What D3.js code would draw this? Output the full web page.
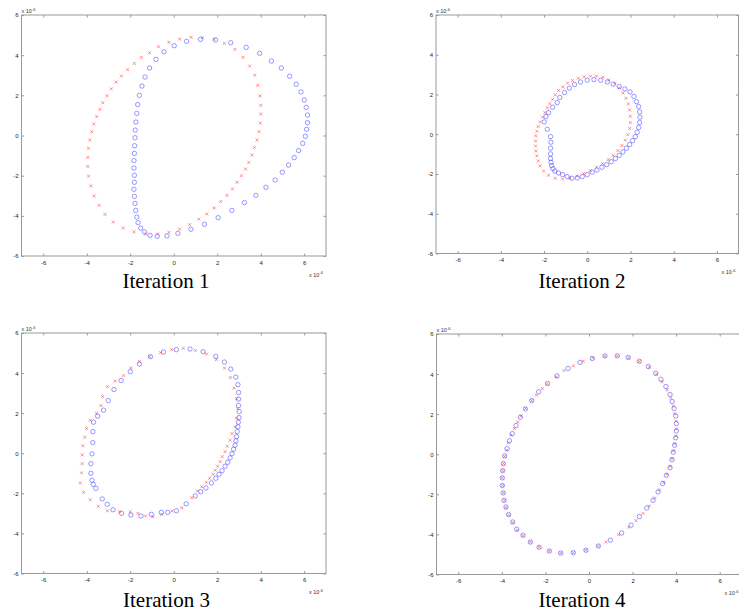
<!DOCTYPE html>
<html>
<head>
<meta charset="utf-8">
<script src="https://cdnjs.cloudflare.com/ajax/libs/d3/7.8.5/d3.min.js"></script>
<style>
  body { margin: 0; background: #fff; }
  .tick text { font-family: "Liberation Sans", Arial, sans-serif; font-size: 6px; fill: #222; }
  .tick line { stroke: #999; }
  .scale { font-family: "Liberation Sans", Arial, sans-serif; font-size: 5.5px; fill: #333; }
  .title { font-family: "Liberation Serif", "Times New Roman", serif; font-size: 21px; fill: #000; }
</style>
</head>
<body>
<svg id="chart" width="739" height="615"></svg>
<script>
// all values are in units of 1e-6 (each plot says "x 10^-6")
var xTicks = [-6, -4, -2, 0, 2, 4, 6];
var yTicks = [-6, -4, -2, 0, 2, 4, 6];
var titles = ["Iteration 1", "Iteration 2", "Iteration 3", "Iteration 4"];

// ITERATION 1
var iter1Red = [[0.80,4.89],[1.32,4.87],[1.86,4.79],[2.33,4.59],[2.81,4.29],[3.19,3.89],[3.49,3.46],[3.72,3.00],[3.86,2.50],[3.97,1.97],[4.00,1.50],[4.00,1.07],[3.98,0.62],[3.92,0.19],[3.83,-0.22],[3.71,-0.59],[3.59,-0.97],[3.45,-1.34],[3.30,-1.67],[3.11,-2.00],[2.91,-2.33],[2.70,-2.66],[2.45,-2.98],[2.16,-3.29],[1.86,-3.61],[1.52,-3.91],[1.15,-4.17],[0.73,-4.44],[0.27,-4.66],[-0.22,-4.82],[-0.74,-4.90],[-1.29,-4.90],[-1.83,-4.80],[-2.32,-4.61],[-2.78,-4.31],[-3.16,-3.93],[-3.43,-3.48],[-3.66,-3.01],[-3.81,-2.51],[-3.92,-2.02],[-3.95,-1.54],[-3.95,-1.09],[-3.92,-0.64],[-3.86,-0.22],[-3.77,0.19],[-3.68,0.57],[-3.54,0.94],[-3.40,1.30],[-3.26,1.63],[-3.07,1.98],[-2.87,2.32],[-2.65,2.66],[-2.41,2.96],[-2.12,3.28],[-1.81,3.59],[-1.49,3.89],[-1.11,4.12],[-0.70,4.42],[-0.22,4.64],[0.27,4.80]];
var iter1Blue = [[1.23,4.79],[1.92,4.76],[2.62,4.62],[3.33,4.39],[3.95,4.09],[4.49,3.71],[4.95,3.36],[5.33,2.95],[5.63,2.55],[5.85,2.17],[6.00,1.77],[6.09,1.40],[6.15,1.02],[6.15,0.64],[6.11,0.31],[6.05,-0.04],[5.93,-0.39],[5.74,-0.75],[5.54,-1.10],[5.28,-1.47],[4.99,-1.83],[4.66,-2.22],[4.24,-2.58],[3.78,-2.98],[3.25,-3.34],[2.67,-3.73],[2.04,-4.09],[1.41,-4.42],[0.79,-4.67],[0.19,-4.87],[-0.31,-5.00],[-0.76,-5.02],[-1.09,-4.97],[-1.35,-4.80],[-1.52,-4.61],[-1.64,-4.34],[-1.70,-4.06],[-1.75,-3.73],[-1.78,-3.38],[-1.81,-3.03],[-1.83,-2.68],[-1.81,-2.33],[-1.81,-1.98],[-1.83,-1.62],[-1.83,-1.25],[-1.81,-0.89],[-1.80,-0.51],[-1.78,-0.11],[-1.77,0.27],[-1.74,0.67],[-1.70,1.10],[-1.66,1.54],[-1.58,2.00],[-1.46,2.46],[-1.32,2.91],[-1.11,3.36],[-0.82,3.79],[-0.45,4.17],[0.02,4.47],[0.59,4.69]];

// ITERATION 2
var iter2Red = [[0.43,2.92],[0.15,2.92],[-0.14,2.89],[-0.42,2.82],[-0.68,2.70],[-0.91,2.57],[-1.13,2.38],[-1.33,2.20],[-1.48,1.98],[-1.60,1.76],[-1.73,1.54],[-1.84,1.33],[-1.96,1.09],[-2.07,0.86],[-2.18,0.62],[-2.27,0.39],[-2.33,0.15],[-2.38,-0.08],[-2.39,-0.34],[-2.39,-0.59],[-2.38,-0.84],[-2.33,-1.09],[-2.27,-1.34],[-2.18,-1.59],[-2.02,-1.85],[-1.79,-2.06],[-1.48,-2.21],[-1.14,-2.25],[-0.80,-2.20],[-0.48,-2.10],[-0.17,-1.98],[0.14,-1.83],[0.43,-1.66],[0.71,-1.48],[0.97,-1.28],[1.20,-1.06],[1.42,-0.82],[1.60,-0.57],[1.76,-0.30],[1.88,-0.02],[1.96,0.29],[1.99,0.59],[1.99,0.91],[1.96,1.22],[1.90,1.53],[1.79,1.81],[1.65,2.08],[1.48,2.33],[1.28,2.55],[1.00,2.73],[0.73,2.87]];
var iter2Blue = [[-1.99,0.62],[-1.85,0.25],[-1.70,-0.12],[-1.68,-0.40],[-1.70,-0.70],[-1.70,-0.99],[-1.70,-1.22],[-1.68,-1.41],[-1.65,-1.58],[-1.59,-1.73],[-1.50,-1.85],[-1.33,-1.95],[-1.14,-2.03],[-0.93,-2.13],[-0.71,-2.21],[-0.46,-2.20],[-0.23,-2.13],[0.00,-2.03],[0.23,-1.91],[0.45,-1.80],[0.68,-1.66],[0.90,-1.53],[1.11,-1.38],[1.30,-1.22],[1.48,-1.06],[1.65,-0.89],[1.81,-0.70],[1.96,-0.52],[2.10,-0.32],[2.22,-0.12],[2.31,0.10],[2.38,0.34],[2.42,0.59],[2.44,0.86],[2.42,1.12],[2.38,1.39],[2.28,1.64],[2.16,1.90],[1.98,2.13],[1.74,2.28],[1.48,2.40],[1.20,2.52],[0.93,2.63],[0.62,2.72],[0.31,2.75],[0.00,2.72],[-0.31,2.63],[-0.59,2.50],[-0.83,2.32],[-1.05,2.10],[-1.27,1.85],[-1.39,1.59],[-1.60,1.36],[-1.79,1.09],[-1.91,0.89]];

// ITERATION 3
var iter3Red = [[-0.61,5.02],[-0.09,5.17],[0.44,5.23],[0.99,5.13],[1.50,4.95],[1.96,4.67],[2.33,4.25],[2.60,3.78],[2.77,3.25],[2.89,2.72],[2.94,2.22],[2.88,1.75],[2.82,1.32],[2.68,0.98],[2.59,0.65],[2.46,0.35],[2.36,0.08],[2.23,-0.17],[2.13,-0.42],[2.02,-0.65],[1.91,-0.85],[1.81,-1.05],[1.65,-1.25],[1.50,-1.45],[1.29,-1.67],[1.09,-1.88],[0.83,-2.22],[0.37,-2.72],[-0.08,-2.88],[-0.55,-3.05],[-0.96,-3.17],[-1.30,-3.13],[-1.65,-3.00],[-2.00,-2.92],[-2.49,-2.92],[-3.05,-2.87],[-3.47,-2.65],[-3.84,-2.32],[-4.15,-1.95],[-4.30,-1.48],[-4.24,-0.98],[-4.21,-0.52],[-4.21,-0.08],[-4.18,0.37],[-4.09,0.80],[-4.01,1.23],[-3.84,1.65],[-3.55,2.00],[-3.35,2.38],[-3.27,2.83],[-3.05,3.32],[-2.69,3.60],[-2.31,3.87],[-1.97,4.25],[-1.58,4.58],[-1.10,4.82]];
var iter3Blue = [[-0.47,5.05],[0.12,5.17],[0.75,5.20],[1.35,5.07],[1.93,4.83],[2.33,4.55],[2.62,4.20],[2.85,3.80],[2.95,3.42],[2.98,3.03],[2.98,2.70],[2.98,2.38],[3.01,2.08],[3.00,1.78],[2.97,1.55],[2.95,1.32],[2.92,1.08],[2.89,0.83],[2.86,0.62],[2.82,0.40],[2.75,0.20],[2.68,-0.02],[2.59,-0.23],[2.48,-0.45],[2.36,-0.65],[2.22,-0.87],[2.08,-1.05],[1.93,-1.25],[1.73,-1.48],[1.48,-1.73],[1.24,-1.92],[0.99,-2.13],[0.57,-2.52],[0.12,-2.87],[-0.28,-2.95],[-0.57,-2.95],[-1.03,-3.05],[-1.51,-3.13],[-1.97,-3.08],[-2.40,-3.00],[-2.79,-2.82],[-3.06,-2.55],[-3.29,-2.28],[-3.58,-1.75],[-3.70,-1.55],[-3.76,-1.35],[-3.81,-1.00],[-3.81,-0.52],[-3.76,-0.03],[-3.72,0.53],[-3.72,1.08],[-3.69,1.55],[-3.50,1.85],[-3.23,2.15],[-3.01,2.63],[-2.75,3.18],[-2.42,3.63],[-2.00,4.07],[-1.58,4.45],[-1.07,4.82]];

// ITERATION 4
var iter4Red = [[0.17,4.81],[0.73,4.89],[1.30,4.91],[1.82,4.81],[2.31,4.63],[2.77,4.34],[3.10,3.99],[3.36,3.61],[3.58,3.21],[3.75,2.81],[3.87,2.41],[3.94,2.03],[3.99,1.65],[4.01,1.26],[3.99,0.90],[3.94,0.53],[3.88,0.17],[3.81,-0.22],[3.72,-0.60],[3.58,-1.00],[3.43,-1.40],[3.23,-1.78],[3.01,-2.18],[2.77,-2.58],[2.48,-2.95],[2.16,-3.31],[1.82,-3.64],[1.36,-4.01],[0.78,-4.38],[0.43,-4.58],[-0.14,-4.79],[-0.72,-4.91],[-1.30,-4.93],[-1.82,-4.83],[-2.29,-4.64],[-2.69,-4.38],[-3.03,-4.06],[-3.29,-3.79],[-3.50,-3.41],[-3.69,-3.03],[-3.81,-2.66],[-3.88,-2.30],[-3.93,-1.93],[-3.96,-1.56],[-3.98,-1.18],[-3.96,-0.82],[-3.93,-0.47],[-3.87,-0.10],[-3.78,0.20],[-3.70,0.57],[-3.58,0.95],[-3.43,1.28],[-3.26,1.61],[-3.12,1.91],[-2.91,2.28],[-2.63,2.68],[-2.42,2.95],[-2.14,3.28],[-1.91,3.51],[-1.50,3.86],[-1.15,4.18],[-0.72,4.41],[-0.26,4.64]];
var iter4Blue = [[0.15,4.78],[0.73,4.91],[1.30,4.91],[1.80,4.83],[2.31,4.64],[2.72,4.38],[3.06,4.04],[3.30,3.74],[3.53,3.38],[3.72,2.98],[3.82,2.63],[3.91,2.28],[3.98,1.91],[4.01,1.53],[4.01,1.16],[3.98,0.82],[3.93,0.45],[3.87,0.10],[3.81,-0.27],[3.72,-0.67],[3.55,-1.05],[3.38,-1.46],[3.17,-1.88],[2.94,-2.30],[2.65,-2.68],[2.31,-3.11],[1.93,-3.54],[1.50,-3.93],[0.98,-4.29],[0.43,-4.58],[-0.14,-4.79],[-0.72,-4.91],[-1.30,-4.93],[-1.82,-4.83],[-2.29,-4.64],[-2.69,-4.38],[-3.03,-4.04],[-3.32,-3.74],[-3.50,-3.38],[-3.69,-3.01],[-3.81,-2.63],[-3.90,-2.30],[-3.94,-1.93],[-3.98,-1.56],[-3.98,-1.18],[-3.96,-0.82],[-3.93,-0.47],[-3.87,-0.08],[-3.76,0.28],[-3.65,0.67],[-3.52,1.03],[-3.35,1.43],[-3.15,1.85],[-2.92,2.26],[-2.63,2.68],[-2.31,3.11],[-1.90,3.53],[-1.47,3.91],[-0.96,4.28],[-0.41,4.58]];

// layout of the four subplots (pixels)
var panels = [
  {title: titles[0], red: iter1Red, blue: iter1Blue, left: 21.5, right: 326, top: 15, bottom: 256, tx: 166, ty: 288},
  {title: titles[1], red: iter2Red, blue: iter2Blue, left: 436, right: 738.5, top: 15, bottom: 253.5, tx: 582, ty: 288},
  {title: titles[2], red: iter3Red, blue: iter3Blue, left: 21.5, right: 326, top: 333, bottom: 573.5, tx: 166.5, ty: 606.5},
  {title: titles[3], red: iter4Red, blue: iter4Blue, left: 436.5, right: 741.5, top: 334, bottom: 574.5, tx: 582, ty: 606.5}
];

var svg = d3.select("#chart");
var fmt = function(d) { return String(d); };

function scaleLabel(g, x, y) {
  var t = g.append("text").attr("class", "scale").attr("x", x).attr("y", y);
  t.append("tspan").text("x 10");
  t.append("tspan").attr("dy", -2.5).style("font-size", "4px").text("-6");
}

function drawPanel(p) {
  var x = d3.scaleLinear().domain([-7, 7]).range([p.left, p.right]);
  var y = d3.scaleLinear().domain([-6, 6]).range([p.bottom, p.top]);
  var g = svg.append("g");

  g.append("rect")
    .attr("x", p.left).attr("y", p.top)
    .attr("width", p.right - p.left).attr("height", p.bottom - p.top)
    .attr("fill", "#fff").attr("stroke", "#999").attr("stroke-width", 1);

  // ticks point inward on all four sides
  g.append("g").attr("transform", "translate(0," + p.bottom + ")")
    .call(d3.axisBottom(x).tickValues(xTicks).tickSizeInner(-2.5).tickSizeOuter(0).tickPadding(4.5).tickFormat(fmt))
    .call(function(a) { a.select(".domain").remove(); });
  g.append("g").attr("transform", "translate(0," + p.top + ")")
    .call(d3.axisTop(x).tickValues(xTicks).tickSizeInner(-2.5).tickSizeOuter(0).tickFormat(""))
    .call(function(a) { a.select(".domain").remove(); });
  g.append("g").attr("transform", "translate(" + p.left + ",0)")
    .call(d3.axisLeft(y).tickValues(yTicks).tickSizeInner(-2.5).tickSizeOuter(0).tickPadding(3).tickFormat(fmt))
    .call(function(a) { a.select(".domain").remove(); });
  g.append("g").attr("transform", "translate(" + p.right + ",0)")
    .call(d3.axisRight(y).tickValues(yTicks).tickSizeInner(-2.5).tickSizeOuter(0).tickFormat(""))
    .call(function(a) { a.select(".domain").remove(); });
  g.selectAll(".tick text").attr("font-family", null).attr("font-size", null);

  scaleLabel(g, p.left, p.top - 2);
  scaleLabel(g, p.right - 17, p.bottom + 20.5);

  // red x markers
  g.append("g").selectAll("path").data(p.red).enter().append("path")
    .attr("transform", function(d) { return "translate(" + x(d[0]) + "," + y(d[1]) + ")"; })
    .attr("d", "M-1.5,-1.5L1.5,1.5M-1.5,1.5L1.5,-1.5")
    .attr("stroke", "#ff3a3a").attr("stroke-opacity", 0.55).attr("stroke-width", 1).attr("fill", "none");

  // blue o markers
  g.append("g").selectAll("circle").data(p.blue).enter().append("circle")
    .attr("cx", function(d) { return x(d[0]); })
    .attr("cy", function(d) { return y(d[1]); })
    .attr("r", 2.2)
    .attr("stroke", "#3030ff").attr("stroke-opacity", 0.55).attr("stroke-width", 0.9).attr("fill", "none");

  svg.append("text").attr("class", "title")
    .attr("x", p.tx).attr("y", p.ty).attr("text-anchor", "middle")
    .text(p.title);
}

panels.forEach(drawPanel);
</script>
</body>
</html>
